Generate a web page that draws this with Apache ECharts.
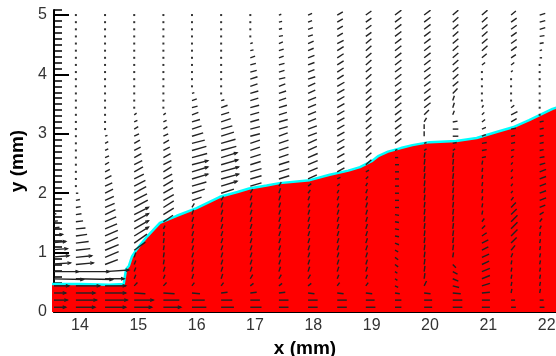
<!DOCTYPE html>
<html>
<head>
<meta charset="utf-8">
<script src="https://cdn.jsdelivr.net/npm/echarts@6/dist/echarts.min.js"></script>
<style>html,body{margin:0;padding:0;background:#fff;}#c{width:556px;height:356px;}</style>
</head>
<body>
<div id="c"></div>
<script>
// ---- data ----
const colX = [13.43, 13.93, 14.43, 14.93, 15.43, 15.92, 16.42, 16.92, 17.41, 17.91, 18.41, 18.90, 19.40, 19.90, 20.39, 20.89, 21.39, 21.88];
const rowY = [0.08,0.20,0.32,0.44,0.56,0.68,0.80,0.92,1.04,1.16,1.28,1.40,1.52,1.64,1.76,1.88,2.00,2.12,2.24,2.36,2.48,2.60,2.72,2.84,2.96,3.08,3.20,3.32,3.44,3.56,3.68,3.80,3.92,4.04,4.16,4.28,4.40,4.52,4.64,4.76,4.88,5.00];
// horizontal (u) and vertical (v) vector components per column, bottom row first
const uCols = [
 [24,26,24,28,46,40, 30,28,26,24,20,16, 14,12,8,6,4,2, 0,0,0,0,0,0, 0,0,0,0,0,0, 0,0,0,0,0,0, 0,0,0,0,0,0],
 [24,26,24,30,46,42, 22,20,18,16,14,12, 9,7,6,5,3,2, 1,1,1,1,1,1, 1,1,1,1,1,1, 1,1,1,1,1,1, 1,1,1,1,1,1],
 [26,28,26,26,24,30, 16,17,17,16,16,15, 14,13,12,11,10,9, 8,6,5,5,4,4, 3,2,1,1,1,1, 1,1,1,1,1,1, 1,1,1,1,1,1],
 [22,24,14,4,2,2, 2,2,14,16,18,18, 18,18,17,16,15,14, 12,11,10,9,8,7, 6,5,4,3,2,1, 1,1,1,1,1,1, 1,1,1,1,1,1],
 [22,20,14,4,2,2, 1,1,1,1,1,2, 12,13,13,13,12,12, 11,10,10,9,8,7, 6,5,4,3,2,2, 1,1,1,1,1,1, 1,1,1,1,1,1],
 [18,16,10,3,2,2, 2,2,2,2,2,2, 2,2,3,12,16,18, 20,20,20,19,18,16, 14,12,10,8,7,6, 3,1,1,1,1,1, 1,1,1,1,1,1],
 [16,14,8,3,2,2, 2,2,2,2,2,2, 2,2,2,3,16,20, 22,22,21,20,19,18, 16,14,12,10,8,4, 2,1,1,1,1,1, 1,1,1,1,1,1],
 [14,12,8,4,3,2, 2,2,2,2,2,2, 2,2,2,2,3,14, 14,14,13,13,12,12, 12,12,11,11,11,10, 10,9,9,8,7,6, 4,3,2,1,1,1],
 [12,12,8,4,3,2, 2,2,2,2,2,2, 2,2,2,2,2,3, 13,13,13,12,12,12, 11,11,11,10,10,9, 9,8,8,7,7,6, 6,5,5,4,4,3],
 [12,12,8,4,3,2, 2,2,2,2,2,2, 2,2,2,2,3,4, 11,12,12,12,11,11, 11,11,10,10,10,10, 9,9,9,8,8,8, 7,7,6,6,5,5],
 [12,12,8,3,2,2, 2,2,2,2,2,2, 2,2,2,2,2,3,4, 9,9,9,9,9,9, 9,9,9,9,9,9, 9,8,8,8,8,8, 8,7,7,7,7],
 [12,11,8,3,2,2, 2,2,2,2,2,2, 2,2,2,2,2,2,3,4, 7,7,7,7,7,7, 7,7,7,7,7,7, 7,7,7,7,7,7, 7,7,7,7],
 [8,8,6,4,3,3, 4,4,4,5,5,5, 5,5,5,5,5,5, 5,5,5,4,3, 8,8,8,8,8,8, 8,8,8,8,8,8, 8,8,8,8,8,8,8],
 [10,10,8,3,1,1, 1,1,1,1,1,1, 1,1,1,1,1,1, 1,1,1,1,3,3, 0,0,3,6,8,8, 8,8,8,8,8,8, 8,8,8,8,8,8],
 [12,12,10,8,7,6, 4,1,1,1,1,1, 1,1,1,1,1,1, 1,1,1,1,3,5, 7,7,6,2,2,2, 6,7,7,7,7,7, 7,7,7,7,7,7],
 [10,10,10,10,10,10, 9,9,8,8,6,4, 3,1,1,1,1,1, 1,1,1,5,6,6, 5,5,4,3,2,1, 1,1,1,1,4,6, 7,7,7,7,7,7],
 [6,5,1,1,1,1, 1,2,5,7,8,8, 8,7,6,3,2,2, 2,2,2,3,4,5, 5,6, 7,8,4,1,1,1, 1,2,4,6,7,7, 7,7,7,6],
 [6,5,1,1,1,1, 1,1,1,1,1,2, 3,5,7,8,8,8, 8,8,7,6,5,5, 5,5,5, 2,2,1,1,1,1, 2,2,3,3,5,6, 7,7,7]
];
const vCols = [
 [0,0,0,0,-1,0, 2,2,2,2,2,2, 1,1,1,1,0,0, 0,0,0,0,0,0, 0,0,0,0,0,0, 0,0,0,0,0,0, 0,0,0,0,0,0],
 [0,0,0,0,-1,0, 2,2,2,2,2,1, 1,1,1,1,0,0, 0,0,0,0,0,0, 0,0,0,0,0,0, 0,0,0,0,0,0, 0,0,0,0,0,0],
 [0,0,0,0,0,2, 6,7,7,7,7,6, 6,6,5,5,5,4, 4,3,3,2,2,2, 1,1,0,0,0,0, 0,0,0,0,0,0, 0,0,0,0,0,0],
 [0,0,-1,4,5,5, 5,6,10,11,11,10, 10,9,9,8,8,7, 6,6,5,5,4,4, 3,3,2,2,1,0, 0,0,0,0,0,0, 0,0,0,0,0,0],
 [0,0,-1,4,5,6, 6,6,6,6,5,4, 8,8,8,7,7,7, 6,6,5,5,4,4, 3,3,2,2,1,1, 0,0,0,0,0,0, 0,0,0,0,0,0],
 [0,0,-1,4,6,6, 6,6,6,6,6,6, 6,6,5,4,5,5, 6,6,5,5,5,4, 4,4,3,3,2,2, 1,0,0,0,0,0, 0,0,0,0,0,0],
 [0,0,1,4,6,6, 6,6,6,6,6,6, 6,6,6,5,5,6, 6,6,6,6,5,5, 5,4,4,3,3,1, 1,0,0,0,0,0, 0,0,0,0,0,0],
 [0,0,1,3,5,6, 6,6,6,6,6,6, 6,6,6,6,5,4, 4,4,4,4,4,4, 3,3,3,3,3,3, 3,3,3,2,2,2, 1,1,1,0,0,0],
 [0,0,1,3,5,6, 6,6,6,6,6,6, 6,6,6,6,6,5, 4,4,4,4,4,4, 4,3,3,3,3,3, 3,3,2,2,2,2, 2,2,1,1,1,1],
 [0,0,-1,3,5,6, 6,6,6,6,6,6, 6,6,5,5,4,3, 5,5,5,5,5,5, 4,4,4,4,4,4, 4,4,3,3,3,3, 3,3,2,2,2,2],
 [0,0,-1,4,5,6, 6,6,6,6,6,6, 6,6,5,5,4,3,2, 5,5,5,5,5,5, 5,5,5,5,5,5, 5,5,5,5,5,5, 4,4,4,4,4],
 [0,0,-1,4,5,6, 6,6,6,6,6,6, 6,6,6,5,5,4,3,2, 6,6,6,6,6,6, 6,6,6,6,6,6, 6,6,6,6,6,6, 5,5,5,5],
 [0,0,-1,-2,-2,-2, -3,-3,-2,-2,-1,-1, -1,-1,0,0,0,0, 0,0,0,0,1, 6,6,6,6,6,6, 6,6,6,6,6,6, 6,6,6,6,6,6,6],
 [0,0,-1,6,7,7, 7,7,7,7,7,7, 7,7,7,7,7,7, 7,7,7,6,2,1, 6,6,5,6,6,6, 6,6,6,6,6,6, 6,6,6,6,6,6],
 [0,0,-1,-2,-3,-3, -4,6,7,7,7,7, 7,7,7,7,7,7, 7,7,7,6,2,1, 0,0,1,5,6,6, 6,6,6,6,6,6, 6,6,6,6,6,6],
 [0,0,1,3,4,4, 4,4,4,4,4,4, 4,5,5,5,5,5, 5,5,5,1,1,1, 2,2,3,3,3,2, 1,0,0,1,3,5, 6,6,6,6,6,6],
 [0,0,5,5,5,5, 5,5,6,7,8,8, 8,7,6,4,3,3, 3,3,3,2,1,1, 1,1, 4,4,3,2,2,1, 1,2,3,4,5,5, 5,5,5,5],
 [0,0,5,5,5,5, 5,5,5,5,5,4, 4,3,3,3,3,3, 3,3,2,1,1,1, 1,1,1, 0,0,0,0,0,0, 0,0,0,1,1,1, 2,2,2]
];
// interface (liquid surface) outline
const surfX = [13.50,14.00,14.50,14.75,14.79,14.84,14.89,14.97,15.15,15.37,15.66,16.00,16.40,16.70,16.90,17.20,17.42,17.94,18.28,18.60,18.80,19.00,19.12,19.28,19.50,19.70,19.99,20.45,20.80,21.14,21.42,21.70,22.10,22.25];
const surfY = [0.47,0.47,0.46,0.47,0.72,0.78,0.93,1.05,1.27,1.50,1.62,1.75,1.94,2.02,2.08,2.13,2.17,2.22,2.31,2.38,2.44,2.54,2.63,2.70,2.76,2.81,2.86,2.88,2.93,3.03,3.11,3.23,3.42,3.47];
const xTicks = [14, 15, 16, 17, 18, 19, 20, 21, 22];
const yTicks = [0, 1, 2, 3, 4, 5];

// ---- build ----
const VS = 0.8 / 58.4; // mm of arrow per velocity unit
const vecData = [];
for (let c = 0; c < colX.length; c++) {
  for (let r = 0; r < rowY.length; r++) {
    vecData.push([colX[c], rowY[r], uCols[c][r], vCols[c][r]]);
  }
}
const surf = surfX.map((x, i) => [x, surfY[i]]);
const FONT = 'Liberation Sans, Arial, sans-serif';

const chart = echarts.init(document.getElementById('c'), null, {renderer: 'canvas'});
chart.setOption({
  animation: false,
  backgroundColor: '#fff',
  grid: {left: 54, right: 0, top: 10, bottom: 44, containLabel: false, outerBoundsMode: 'none'},
  xAxis: [
    {type: 'value', min: 13.555, max: 22.16, splitNumber: 8, position: 'bottom',
     name: 'x (mm)', nameLocation: 'middle', nameGap: 22,
     nameTextStyle: {fontFamily: FONT, fontWeight: 'bold', fontSize: 19, color: '#000'},
     axisLine: {show: true, onZero: false, lineStyle: {color: '#000', width: 2}},
     axisTick: {show: true, inside: true, length: 10, customValues: xTicks, lineStyle: {color: '#000', width: 2}},
     axisLabel: {show: true, customValues: xTicks, margin: 6, fontFamily: FONT, fontSize: 16, color: '#333'},
     splitLine: {show: false}},
    {type: 'value', min: 13.555, max: 22.16, splitNumber: 43, position: 'bottom',
     axisLine: {show: false, onZero: false},
     axisTick: {show: true, inside: true, length: 5, lineStyle: {color: '#000', width: 1.5}},
     axisLabel: {show: false}, splitLine: {show: false}}
  ],
  yAxis: [
    {type: 'value', min: 0, max: 5.085, splitNumber: 5, position: 'left',
     name: 'y (mm)', nameLocation: 'middle', nameGap: 27,
     nameTextStyle: {fontFamily: FONT, fontWeight: 'bold', fontSize: 19, color: '#000'},
     axisLine: {show: true, onZero: false, lineStyle: {color: '#000', width: 2}},
     axisTick: {show: true, inside: true, length: 15, customValues: yTicks, lineStyle: {color: '#000', width: 2}},
     axisLabel: {show: true, customValues: yTicks, margin: 7, fontFamily: FONT, fontSize: 16, color: '#333'},
     splitLine: {show: false}},
    {type: 'value', min: 0, max: 5.085, splitNumber: 51, position: 'left',
     axisLine: {show: false, onZero: false},
     axisTick: {show: true, inside: true, length: 8, lineStyle: {color: '#000', width: 1.5}},
     axisLabel: {show: false}, splitLine: {show: false}}
  ],
  series: [
    {type: 'line', xAxisIndex: 0, yAxisIndex: 0, data: surf, symbol: 'none', z: 1,
     lineStyle: {color: '#00ffff', width: 2.5}, areaStyle: {color: '#ff0000', opacity: 1}},
    {type: 'custom', xAxisIndex: 0, yAxisIndex: 0, data: vecData, clip: true, z: 3,
     renderItem: function (params, api) {
       const x = api.value(0), y = api.value(1), u = api.value(2), v = api.value(3);
       const p0 = api.coord([x, y]);
       const p1 = api.coord([x + u * VS, y + v * VS]);
       const dx = p1[0] - p0[0], dy = p1[1] - p0[1];
       const len = Math.hypot(dx, dy);
       if (len < 2.2) {
         return {type: 'rect', shape: {x: p0[0] - 1, y: p0[1] - 1, width: 2, height: 2}, style: {fill: '#333'}};
       }
       const children = [{type: 'line', shape: {x1: p0[0], y1: p0[1], x2: p1[0], y2: p1[1]}, style: {stroke: '#222', lineWidth: 1.4}}];
       if (len > 16) {
         const a = Math.atan2(dy, dx), h = 3.5, w = 0.4;
         children.push({type: 'polyline', shape: {points: [
           [p1[0] - h * Math.cos(a - w), p1[1] - h * Math.sin(a - w)], [p1[0], p1[1]],
           [p1[0] - h * Math.cos(a + w), p1[1] - h * Math.sin(a + w)]]},
           style: {stroke: '#222', lineWidth: 1.2, fill: null}});
       }
       return {type: 'group', children: children};
     }}
  ]
});
</script>
</body>
</html>
